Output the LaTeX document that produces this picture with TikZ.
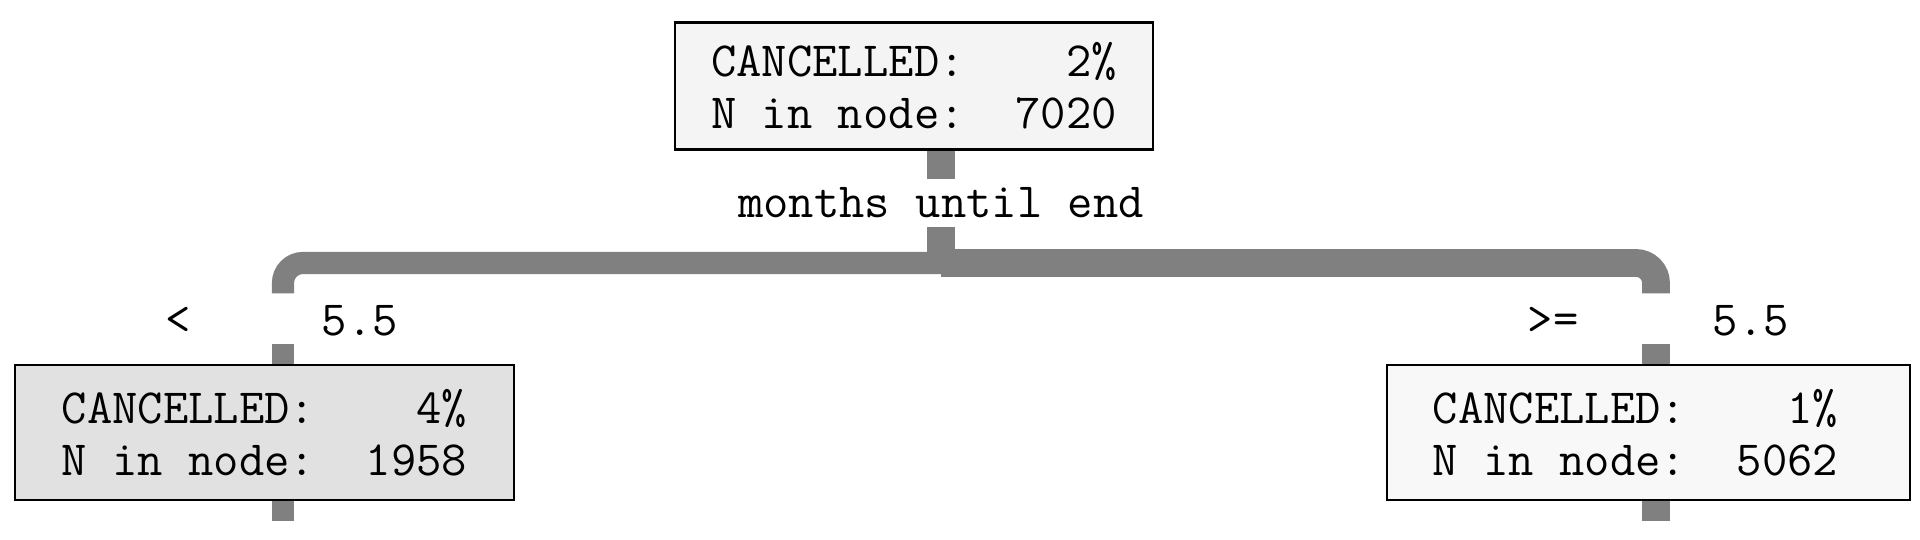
\documentclass[tikz,border=0pt]{standalone}
\usepackage{fontspec}
\usepackage{tikz}
\usetikzlibrary{positioning}
\definecolor{wire}{HTML}{808080}
\definecolor{rootfill}{HTML}{F4F4F4}
\definecolor{hotfill}{HTML}{E1E1E1}
\definecolor{coolfill}{HTML}{F8F8F8}
\newcommand{\treefont}{\fontsize{14}{14.8}\selectfont\ttfamily}
\tikzset{
  treebox/.style={rectangle, draw=black, line width=0.6pt, align=left, inner sep=0pt, font=\treefont},
  rootbox/.style={treebox, fill=rootfill, minimum width=47.8mm, minimum height=12.7mm},
  hotbox/.style={treebox, fill=hotfill, minimum width=49.9mm, minimum height=13.5mm},
  coolbox/.style={treebox, fill=coolfill, minimum width=52.3mm, minimum height=13.5mm},
  lbl/.style={font=\treefont, inner sep=0pt},
  gap/.style={inner sep=0pt, minimum width=0pt, minimum height=4.9mm},
  trunk/.style={draw=wire, line width=7.7pt},
  lwire/.style={draw=wire, line width=6.3pt},
  rwire/.style={draw=wire, line width=7.9pt}
}

\begin{document}
\begin{tikzpicture}[x=0.1mm, y=-0.1mm]
  \useasboundingbox (0,0) rectangle (1920,540);
  % split on the root
  \node[rootbox] (root) at (914,86) {CANCELLED:~~~~2\%\\N in node:~~7020};
  \node[lbl, minimum height=4.6mm] (split) at (941,203) {months until end};
  \coordinate (fork) at (941,263);
  % branch conditions
  \node[gap] (lcut) at (283,318.5) {};
  \node[lbl] (lop) at (178,321) {<};
  \node[lbl, anchor=west] (lval) at (321,321) {5.5};
  \node[gap] (rcut) at (1656,318.5) {};
  \node[lbl] (rop) at (1553,321) {>=};
  \node[lbl, anchor=west] (rval) at (1712,321) {5.5};
  % children
  \node[hotbox] (lkid) at (264.5,432.5) {CANCELLED:~~~~4\%\\N in node:~~1958};
  \node[coolbox] (rkid) at (1648.5,432.5) {\hspace*{-2.6mm}CANCELLED:~~~~1\%\\\hspace*{-2.6mm}N in node:~~5062};
  \coordinate (lend) at (283,521);
  \coordinate (rend) at (1656,521);
  % wires
  \draw[trunk] (root.south -| split.north) -- (split.north);
  \draw[trunk] (split.south) -- (fork);
  \draw[lwire, rounded corners=2mm] (fork) -| (lcut.north);
  \draw[rwire, rounded corners=2mm] (fork) -| (rcut.north);
  \draw[lwire] (lcut.south) -- (lcut.south |- lkid.north);
  \draw[rwire] (rcut.south) -- (rcut.south |- rkid.north);
  \draw[lwire] (lkid.south -| lend) -- (lend);
  \draw[rwire] (rkid.south -| rend) -- (rend);
\end{tikzpicture}
\end{document}
